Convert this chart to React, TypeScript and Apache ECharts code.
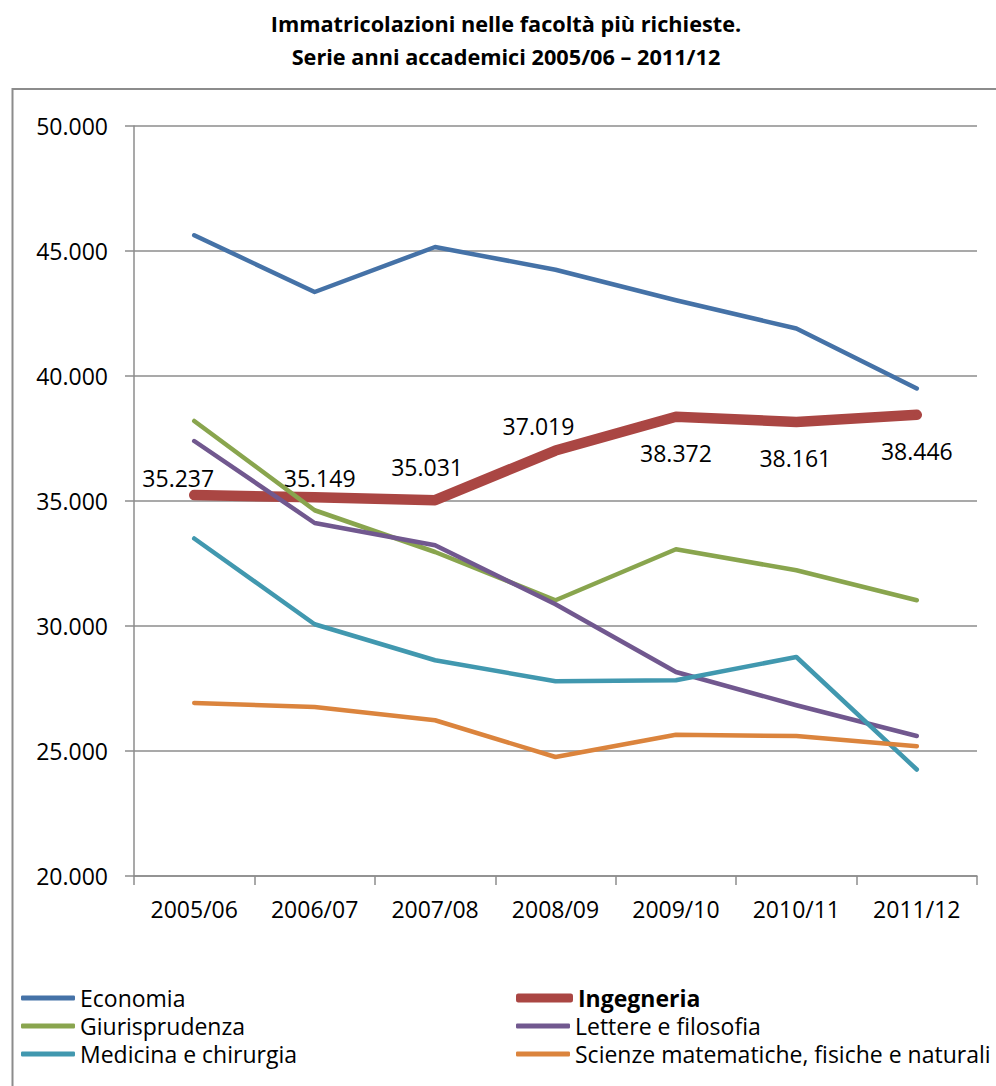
import React, { useEffect, useRef } from "react";
import * as echarts from "echarts";

const categories = ["2005/06", "2006/07", "2007/08", "2008/09", "2009/10", "2010/11", "2011/12"];

const seriesNames = [
  "Economia",
  "Ingegneria",
  "Giurisprudenza",
  "Lettere e filosofia",
  "Medicina e chirurgia",
  "Scienze matematiche, fisiche e naturali",
];

const economia = [45630, 43360, 45160, 44250, 43030, 41900, 39500];
const ingegneria = [35237, 35149, 35031, 37019, 38372, 38161, 38446];
const giurisprudenza = [38200, 34630, 32960, 31030, 33070, 32230, 31030];
const lettere = [37400, 34120, 33230, 30870, 28160, 26830, 25600];
const medicina = [33500, 30070, 28630, 27790, 27830, 28760, 24260];
const scienze = [26920, 26760, 26230, 24760, 25650, 25600, 25190];

const yMin = 20000;
const yMax = 50000;
const yStep = 5000;

const titleLines = [
  "Immatricolazioni nelle facoltà più richieste.",
  "Serie anni accademici 2005/06 – 2011/12",
];

// styles
const colors = ["#4572A7", "#AA4643", "#89A54E", "#71588F", "#4198AF", "#DB843D"];
const FONT = "'Open Sans', 'Noto Sans', sans-serif";
const labelOffsets = [
  [-16, -17],
  [5, -19],
  [-8, -33],
  [-17, -25],
  [0, 36],
  [-1, 36],
  [0, 36],
];

const fmt = (v: number) => String(Math.round(v)).replace(/\B(?=(\d{3})+(?!\d))/g, ".");

export default function App() {
  const ref = useRef<HTMLDivElement>(null);
  useEffect(() => {
    if (!ref.current) return;
    const chart = echarts.init(ref.current, null, { renderer: "svg" });
    const values = [economia, ingegneria, giurisprudenza, lettere, medicina, scienze];

    const series = values.map((vals, i) => {
      const isIng = i === 1;
      const s: any = {
        name: seriesNames[i],
        type: "line",
        data: isIng
          ? vals.map((v, j) => ({
              value: v,
              label: { offset: labelOffsets[j] },
            }))
          : vals,
        symbol: isIng ? "circle" : "none",
        symbolSize: isIng ? 6 : 0,
        showSymbol: isIng,
        itemStyle: { color: colors[i] },
        lineStyle: {
          color: colors[i],
          width: isIng ? 10.5 : 4.5,
          cap: "round",
          join: "round",
        },
        emphasis: { disabled: true },
        z: 2 + i,
      };
      if (isIng) {
        s.label = {
          show: true,
          position: "inside",
          formatter: (p: any) => fmt(p.value),
          color: "#000",
          fontFamily: FONT,
          fontSize: 23,
        };
      }
      return s;
    });

    const legendPos = [
      [21, 986],
      [516, 986],
      [21, 1014],
      [516, 1014],
      [21, 1042],
      [516, 1042],
    ];
    const legends = seriesNames.map((n, i) => ({
      data: [{ name: n, icon: "roundRect" }],
      left: legendPos[i][0],
      top: legendPos[i][1],
      padding: 0,
      itemWidth: i === 1 ? 57 : 54,
      itemHeight: i === 1 ? 9 : 5,
      selectedMode: false,
      textStyle: {
        color: "#000",
        fontFamily: FONT,
        fontSize: 23,
        lineHeight: 24,
        fontWeight: i === 1 ? "bold" : "normal",
      },
    }));

    chart.setOption({
      animation: false,
      backgroundColor: "#fff",
      grid: { left: 134, right: 19, top: 126, bottom: 210 },
      legend: legends,
      graphic: [
        {
          type: "rect",
          shape: { x: 12.5, y: 89, width: 1000, height: 1010 },
          style: { fill: "none", stroke: "#8c8c8c", lineWidth: 2 },
          silent: true,
        },
        {
          type: "text",
          x: 506,
          y: 7,
          style: {
            text: titleLines.join("\n"),
            font: `bold 21.7px ${FONT}`,
            lineHeight: 33,
            fill: "#000",
            textAlign: "center",
            textVerticalAlign: "top",
          },
        },
      ],
      xAxis: {
        type: "category",
        data: categories,
        boundaryGap: true,
        axisLine: { lineStyle: { color: "#8c8c8c", width: 1.5 } },
        axisTick: { show: true, length: 9, lineStyle: { color: "#8c8c8c", width: 1.5 } },
        axisLabel: { color: "#000", fontFamily: FONT, fontSize: 23, margin: 21 },
        splitLine: { show: false },
      },
      yAxis: {
        type: "value",
        min: yMin,
        max: yMax,
        interval: yStep,
        axisLine: { show: true, lineStyle: { color: "#8c8c8c", width: 1.5 } },
        axisTick: { show: true, length: 9, lineStyle: { color: "#8c8c8c", width: 1.5 } },
        axisLabel: {
          color: "#000",
          fontFamily: FONT,
          fontSize: 23,
          margin: 26,
          formatter: (v: number) => fmt(v),
        },
        splitLine: { show: true, lineStyle: { color: "#8c8c8c", width: 1.5 } },
      },
      series,
    });
    return () => chart.dispose();
  }, []);
  return (
    <div
      ref={ref}
      style={{ position: "absolute", left: 0, top: 0, width: 996, height: 1086 }}
    />
  );
}
